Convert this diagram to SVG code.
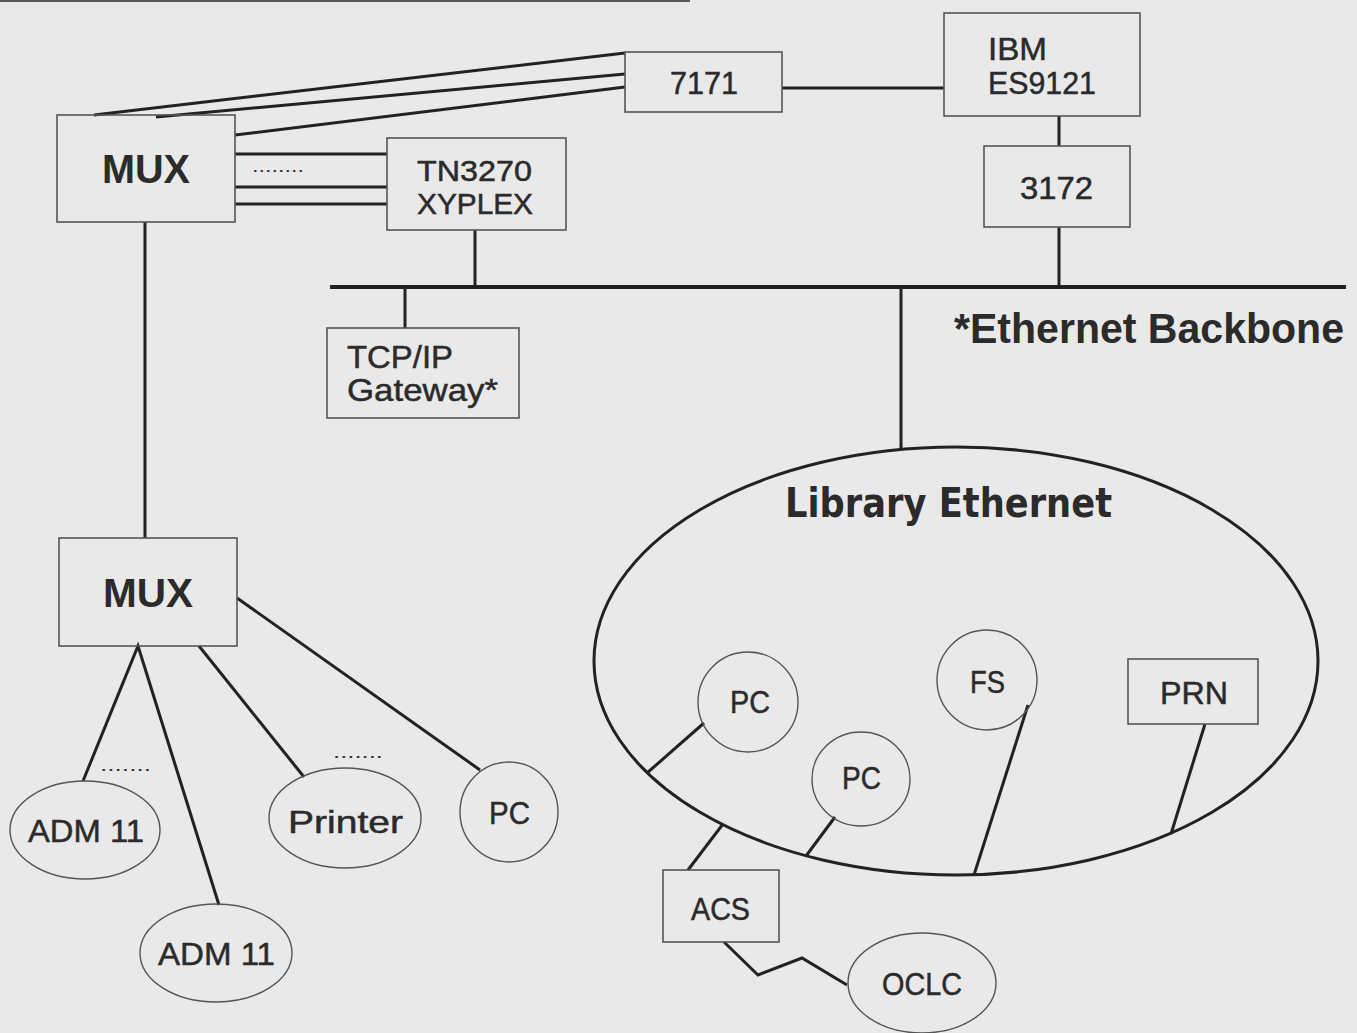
<svg xmlns="http://www.w3.org/2000/svg" width="1357" height="1033" viewBox="0 0 1357 1033">
<style>
.box{fill:none;stroke:#555;stroke-width:1.6}
.ell{fill:none;stroke:#555;stroke-width:1.4}
.lbl{font-family:"Liberation Sans",Arial,sans-serif;font-size:32px;fill:#2b2b2b;stroke:#2b2b2b;stroke-width:0.5}
.bold{font-family:"Liberation Sans",Arial,sans-serif;font-weight:bold;font-size:40px;fill:#2b2b2b}
.big{font-family:"DejaVu Sans",Verdana,sans-serif;font-weight:bold;font-size:41px;fill:#2b2b2b}
.dots{font-family:"Liberation Sans",Arial,sans-serif;font-size:18px;fill:#333}
.c{fill:none;stroke:#222;stroke-width:3;stroke-linejoin:miter}
</style>
<rect width="1357" height="1033" fill="#e9e9e9"/>
<line x1="0" y1="1" x2="690" y2="1" stroke="#555" stroke-width="2"/>
<g id="connectors">
  <line class="c" x1="94" y1="115" x2="625" y2="53"/>
  <line class="c" x1="156" y1="117" x2="625" y2="74"/>
  <line class="c" x1="235" y1="135" x2="625" y2="87"/>
  <line class="c" x1="235" y1="154" x2="387" y2="154"/>
  <line class="c" x1="235" y1="187" x2="387" y2="187"/>
  <line class="c" x1="235" y1="204" x2="387" y2="204"/>
  <line class="c" x1="782" y1="88" x2="944" y2="88"/>
  <line class="c" x1="1059" y1="116" x2="1059" y2="146"/>
  <line class="c" x1="1059" y1="227" x2="1059" y2="287"/>
  <line class="c" x1="475" y1="230" x2="475" y2="287"/>
  <line x1="330" y1="287" x2="1346" y2="287" stroke="#222" stroke-width="4"/>
  <line class="c" x1="405" y1="287" x2="405" y2="328"/>
  <line class="c" x1="901" y1="287" x2="901" y2="450"/>
  <line class="c" x1="145" y1="222" x2="145" y2="538"/>
  <polyline class="c" points="83,781 138,646 219,905"/>
  <line class="c" x1="199" y1="646" x2="304" y2="777"/>
  <line class="c" x1="237" y1="598" x2="480" y2="770"/>
  <line class="c" x1="704" y1="723" x2="647" y2="773"/>
  <line class="c" x1="835" y1="817" x2="806" y2="856"/>
  <line class="c" x1="1028" y1="705" x2="974" y2="875"/>
  <line class="c" x1="1205" y1="724" x2="1171" y2="834"/>
  <line class="c" x1="723" y1="824" x2="688" y2="870"/>
  <polyline class="c" points="724,942 758,975 802,958 847,985"/>
  <text class="dots" x="252" y="172" textLength="52" lengthAdjust="spacingAndGlyphs">........</text>
  <text class="dots" x="100" y="771" textLength="51" lengthAdjust="spacingAndGlyphs">.......</text>
  <text class="dots" x="333" y="758" textLength="50" lengthAdjust="spacingAndGlyphs">.......</text>
</g>
<g id="mux1">
  <rect class="box" x="57" y="115" width="178" height="107"/>
  <text class="bold" x="102" y="183" textLength="88" lengthAdjust="spacingAndGlyphs">MUX</text>
</g>
<g id="n7171">
  <rect class="box" x="625" y="52" width="157" height="60"/>
  <text class="lbl" x="670" y="94" textLength="68" lengthAdjust="spacingAndGlyphs">7171</text>
</g>
<g id="ibm">
  <rect class="box" x="944" y="13" width="196" height="103"/>
  <text class="lbl" x="988" y="60" textLength="59" lengthAdjust="spacingAndGlyphs">IBM</text>
  <text class="lbl" x="988" y="94" textLength="108" lengthAdjust="spacingAndGlyphs">ES9121</text>
</g>
<g id="n3172">
  <rect class="box" x="984" y="146" width="146" height="81"/>
  <text class="lbl" x="1020" y="199" textLength="73" lengthAdjust="spacingAndGlyphs">3172</text>
</g>
<g id="tn3270">
  <rect class="box" x="387" y="138" width="179" height="92"/>
  <text class="lbl" x="417" y="181" textLength="115" lengthAdjust="spacingAndGlyphs" style="font-size:29px">TN3270</text>
  <text class="lbl" x="417" y="214" textLength="116" lengthAdjust="spacingAndGlyphs" style="font-size:29px">XYPLEX</text>
</g>
<g id="tcpip">
  <rect class="box" x="327" y="328" width="192" height="90"/>
  <text class="lbl" x="347" y="368" textLength="106" lengthAdjust="spacingAndGlyphs">TCP/IP</text>
  <text class="lbl" x="347" y="401" textLength="151" lengthAdjust="spacingAndGlyphs">Gateway*</text>
</g>
<g id="backbone-label">
  <text x="954" y="343" textLength="390" lengthAdjust="spacingAndGlyphs" style="font-family:'Liberation Sans',Arial,sans-serif;font-weight:bold;font-size:42px;fill:#2b2b2b">*Ethernet Backbone</text>
</g>
<g id="library-ethernet">
  <ellipse cx="956" cy="661" rx="362" ry="214" fill="none" stroke="#222" stroke-width="3"/>
  <text class="big" x="785" y="517" textLength="327" lengthAdjust="spacingAndGlyphs">Library Ethernet</text>
</g>
<g id="mux2">
  <rect class="box" x="59" y="538" width="178" height="108"/>
  <text class="bold" x="103" y="607" textLength="90" lengthAdjust="spacingAndGlyphs">MUX</text>
</g>
<g id="adm1">
  <ellipse class="ell" cx="85" cy="830" rx="75" ry="49"/>
  <text class="lbl" x="28" y="842" textLength="116" lengthAdjust="spacingAndGlyphs">ADM 11</text>
</g>
<g id="adm2">
  <ellipse class="ell" cx="216" cy="953" rx="76" ry="49"/>
  <text class="lbl" x="158" y="965" textLength="117" lengthAdjust="spacingAndGlyphs">ADM 11</text>
</g>
<g id="printer">
  <ellipse class="ell" cx="345" cy="818" rx="76" ry="50"/>
  <text class="lbl" x="288" y="833" textLength="115" lengthAdjust="spacingAndGlyphs">Printer</text>
</g>
<g id="pc-left">
  <ellipse class="ell" cx="509" cy="812" rx="49" ry="50"/>
  <text class="lbl" x="489" y="824" textLength="41" lengthAdjust="spacingAndGlyphs">PC</text>
</g>
<g id="pc1">
  <ellipse class="ell" cx="748" cy="702" rx="50" ry="50"/>
  <text class="lbl" x="730" y="713" textLength="40" lengthAdjust="spacingAndGlyphs">PC</text>
</g>
<g id="pc2">
  <ellipse class="ell" cx="861" cy="779" rx="49" ry="47"/>
  <text class="lbl" x="842" y="789" textLength="39" lengthAdjust="spacingAndGlyphs">PC</text>
</g>
<g id="fs">
  <ellipse class="ell" cx="987" cy="680" rx="50" ry="50"/>
  <text class="lbl" x="970" y="693" textLength="35" lengthAdjust="spacingAndGlyphs">FS</text>
</g>
<g id="prn">
  <rect class="box" x="1128" y="659" width="130" height="65"/>
  <text class="lbl" x="1160" y="704" textLength="68" lengthAdjust="spacingAndGlyphs">PRN</text>
</g>
<g id="acs">
  <rect class="box" x="663" y="870" width="116" height="72"/>
  <text class="lbl" x="691" y="920" textLength="59" lengthAdjust="spacingAndGlyphs">ACS</text>
</g>
<g id="oclc">
  <ellipse class="ell" cx="922" cy="983" rx="74" ry="50"/>
  <text class="lbl" x="882" y="995" textLength="80" lengthAdjust="spacingAndGlyphs">OCLC</text>
</g>
</svg>
